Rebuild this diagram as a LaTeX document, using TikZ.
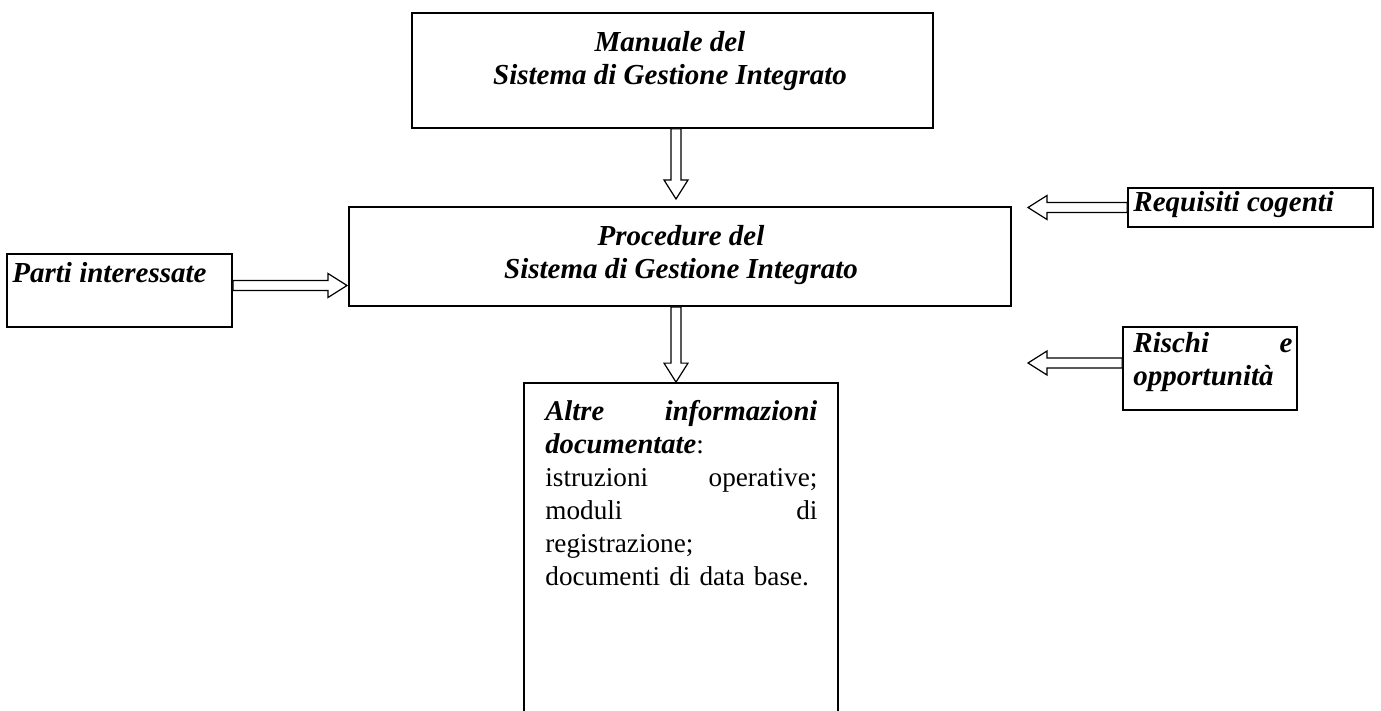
\documentclass[tikz,border=0pt]{standalone}
\usepackage{fontspec}
\setmainfont{Liberation Serif}
\usetikzlibrary{calc,positioning}

\newcommand{\shaftw}{2.5pt}
\newcommand{\headw}{6pt}
\newcommand{\headl}{9.5pt}
\newcommand{\bitext}[1]{{\fontsize{14.3}{16.5}\selectfont\bfseries\itshape #1}}

\begin{document}
\begin{tikzpicture}[x=0.5pt, y=-0.5pt,
    box/.style={draw, line width=0.9pt, inner sep=0pt},
    heading/.style={inner sep=0pt, font=\fontsize{14.5}{16.5}\selectfont\bfseries\itshape},
    hollow/.style={draw, fill=white, line width=0.6pt, line join=miter,
      to path={
        ($(\tikztostart)!\shaftw!90:(\tikztotarget)$)
        -- ($(\tikztotarget)!\headl!(\tikztostart)!\shaftw!90:(\tikztotarget)$)
        -- ($(\tikztotarget)!\headl!(\tikztostart)!\headw!90:(\tikztotarget)$)
        -- (\tikztotarget)
        -- ($(\tikztotarget)!\headl!(\tikztostart)!\headw!-90:(\tikztotarget)$)
        -- ($(\tikztotarget)!\headl!(\tikztostart)!\shaftw!-90:(\tikztotarget)$)
        -- ($(\tikztostart)!\shaftw!-90:(\tikztotarget)$)
        -- cycle}}]
  \clip (0,0) rectangle (1381,711);

  % Boxes
  \node[box, minimum width=260.5pt, minimum height=57.5pt] (man) at (672.5,70.5) {};
  \node[box, minimum width=331pt, minimum height=49.5pt] (proc) at (680,256.5) {};
  \node[box, minimum width=157pt, minimum height=178.5pt] (alt) at (681,561.5) {};
  \node[box, minimum width=112.5pt, minimum height=36.5pt] (parti) at (119.5,290.5) {};
  \node[box, minimum width=122.5pt, minimum height=19.5pt] (req) at (1250.5,207.5) {};
  \node[box, minimum width=87pt, minimum height=41.5pt] (ris) at (1210,368.5) {};

  % Texts
  \node[heading, align=center, anchor=north] (mantext) at (670,31) {Manuale del\\Sistema di Gestione Integrato};
  \node[heading, align=center, anchor=north] (proctext) at (681,225) {Procedure del\\Sistema di Gestione Integrato};
  \node[heading, anchor=base west] (partitext) at (12,283) {Parti interessate};
  \node[heading, anchor=base west] (reqtext) at (1133,212) {Requisiti cogenti};
  \node[heading, text width=79.5pt, align=left, anchor=north west] (ristext) at (1133,332) {Rischi\hfill e\\opportunità};
  \node[inner sep=0pt, text width=136pt, align=left, anchor=north west,
        font=\fontsize{13.6}{16.5}\selectfont] (alttext) at (545,400) {%
    \bitext{Altre}\hfill\bitext{informazioni}\\
    \bitext{documentate}:\\
    istruzioni\hfill operative;\\
    moduli\hfill di\\
    registrazione;\\
    documenti di data base.\hspace*{\fill}};

  % Arrows
  \coordinate (axis) at (676,0);
  \coordinate (tipa) at (676,199);
  \coordinate (tipp) at (347,285.5);
  \coordinate (tipr) at (1028,363);
  \draw[hollow] (man.south -| axis) to (tipa);
  \draw[hollow] (proc.south -| axis) to (alt.north -| axis);
  \draw[hollow] (parti.east |- tipp) to (tipp);
  \draw[hollow] (req.west) to (req.west -| tipr);
  \draw[hollow] (ris.west |- tipr) to (tipr);
\end{tikzpicture}
\end{document}
